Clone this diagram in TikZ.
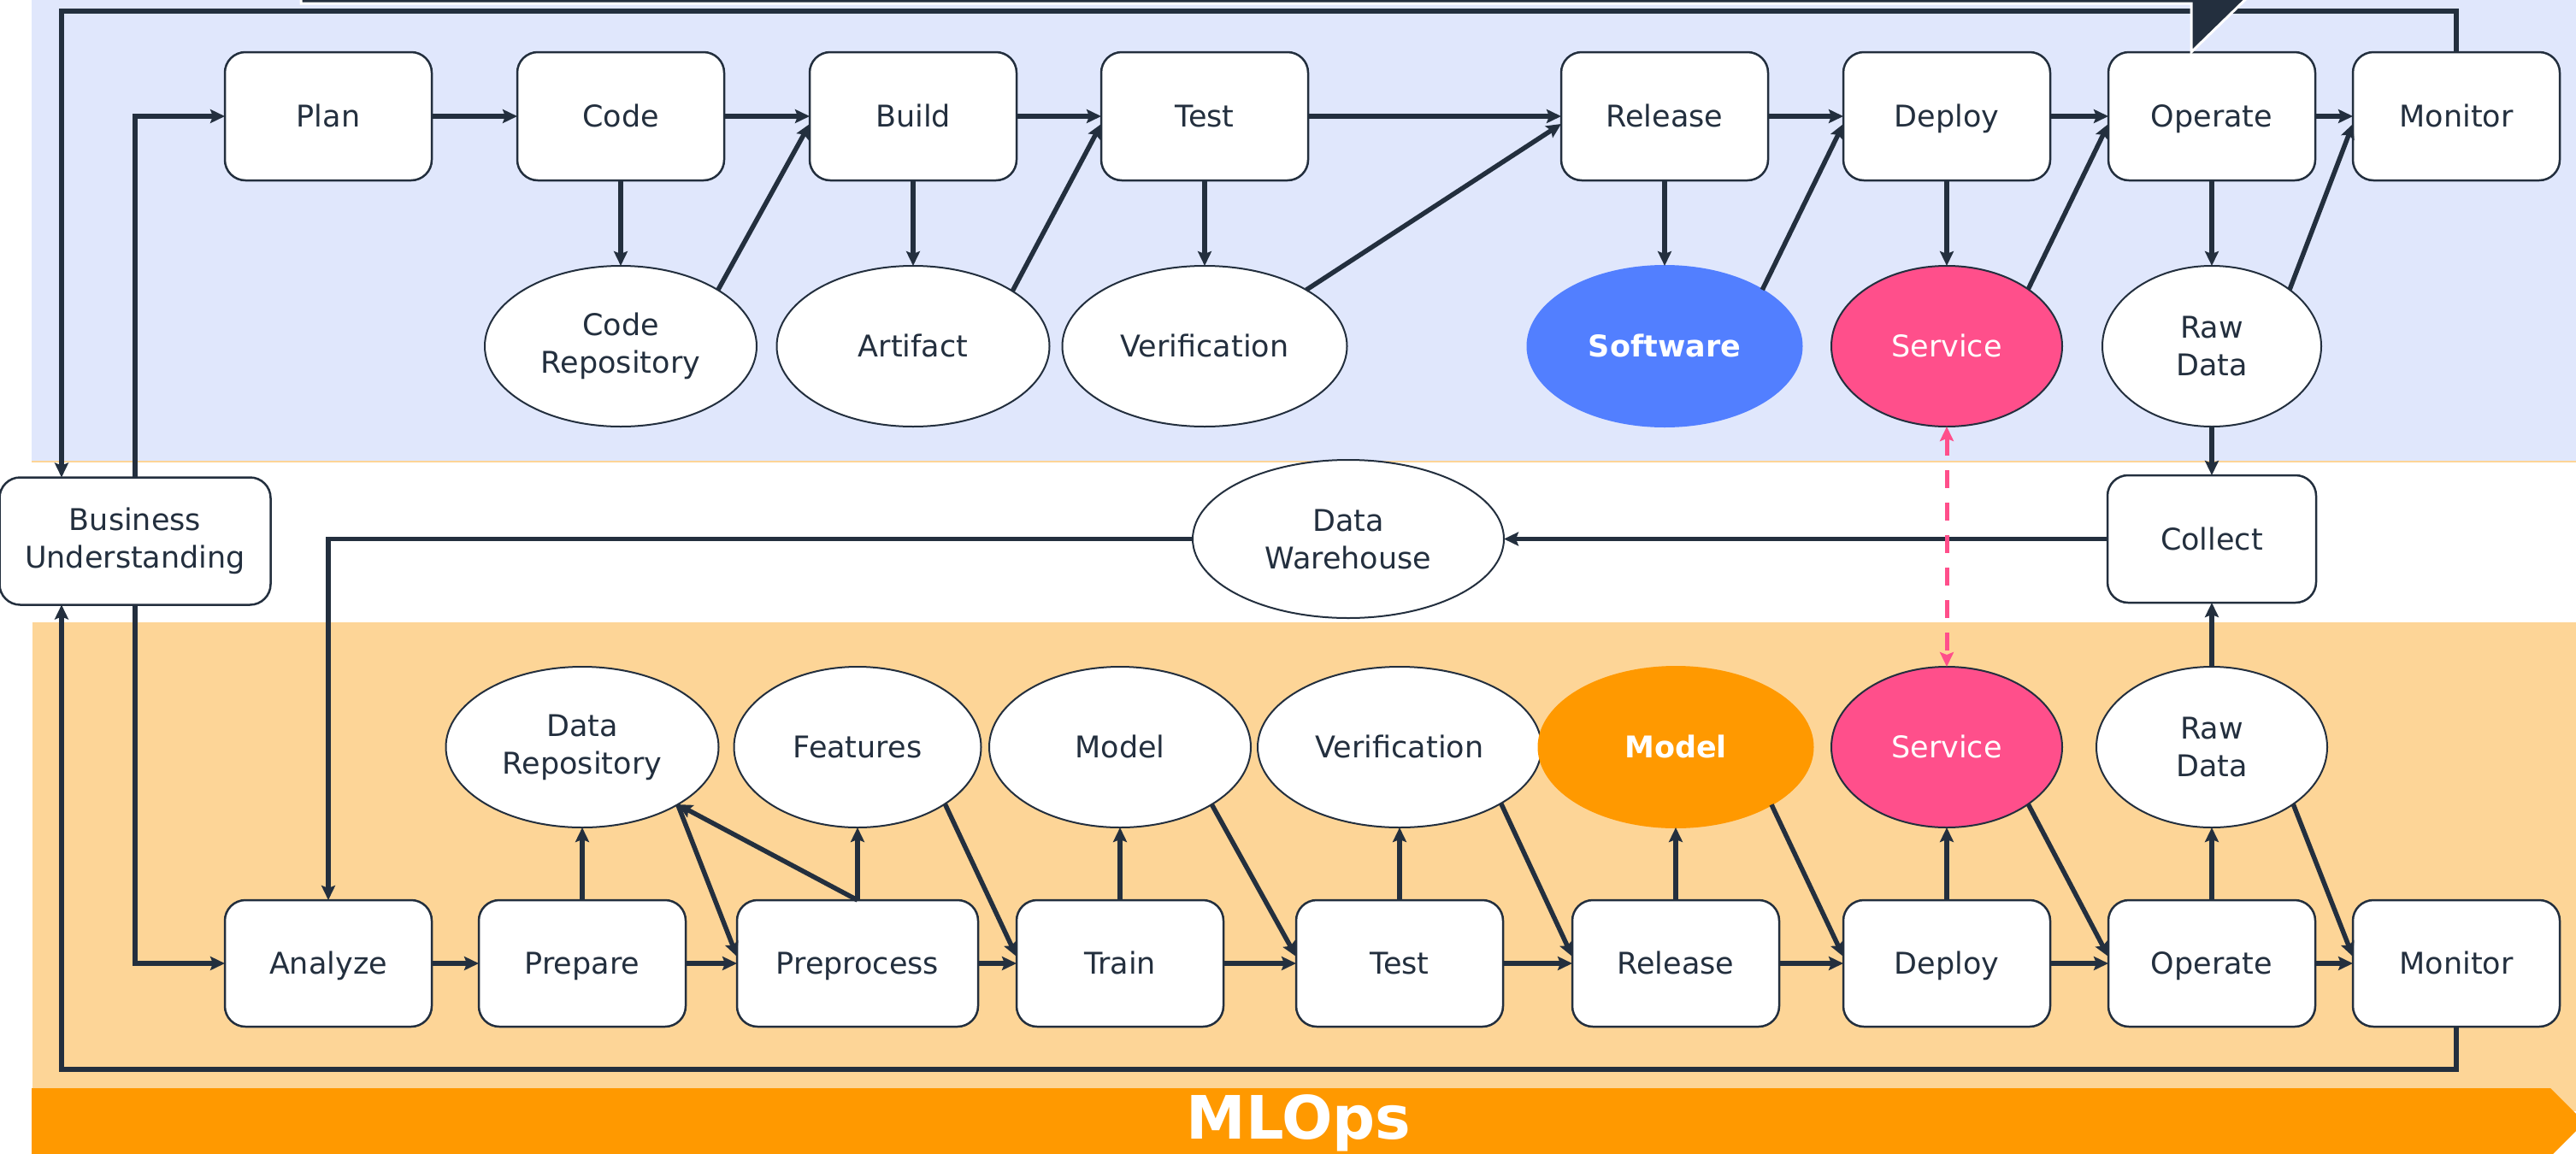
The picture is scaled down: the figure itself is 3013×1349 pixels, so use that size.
\documentclass[tikz,border=0pt]{standalone}
\usepackage{fontspec}
\setmainfont{DejaVu Sans}
\usetikzlibrary{positioning,shapes.geometric,arrows.meta}

\definecolor{ink}{HTML}{232F3E}
\definecolor{devbg}{HTML}{E0E7FC}
\definecolor{mlbg}{HTML}{FDD597}
\definecolor{awsorange}{HTML}{FF9900}
\definecolor{svcpink}{HTML}{FF4F8B}
\definecolor{swblue}{HTML}{527FFF}

\newcommand{\labelstrut}{\rule[-9pt]{0pt}{43.5pt}}

\tikzset{
    stage/.style={draw=ink, line width=2.5pt, fill=white, rounded corners=24pt, minimum width=242pt, minimum height=150pt,
        align=center, text=ink, inner sep=0pt, outer sep=0pt, font=\fontsize{35}{44}\selectfont},
    store/.style={ellipse, draw=ink, line width=2pt, fill=white, minimum height=188pt,
        align=center, text=ink, inner sep=0pt, outer sep=0pt, font=\fontsize{35}{44}\selectfont},
    highlight/.style={text=white, font=\fontsize{35}{44}\selectfont\bfseries},
    flowtip/.tip={Stealth[length=17pt, width=16pt, inset=3pt]},
    flow/.style={draw=ink, line width=5.5pt, -flowtip},
}

\begin{document}
\begin{tikzpicture}[x=1pt, y=-1pt]
                \useasboundingbox (0,0) rectangle (3013,1349);
                \clip (0,0) rectangle (3013,1349);

                \fill [devbg] (37,-10) rectangle (3020,540);
                \fill [mlbg] (38,728) rectangle (3020,1300);
                \draw [mlbg, line width=2pt] (37,540) -- (3020,540);

                \def\dx{100pt}
                \def\dy{100pt}
                \node [stage] (plan) at (384,136) {Plan\labelstrut};
                \node [stage, right=\dx of plan] (code) {Code\labelstrut};
                \node [stage, right=\dx of code] (build) {Build\labelstrut};
                \node [stage, right=99pt of build] (test) {Test\labelstrut};
                \node [stage, right=296pt of test] (release) {Release\labelstrut};
                \node [stage, right=88pt of release] (deploy) {Deploy\labelstrut};
                \node [stage, right=68pt of deploy] (operate) {Operate\labelstrut};
                \node [stage, right=44pt of operate] (monitor) {Monitor\labelstrut};

                \node [store, below=\dy of code, minimum width=318pt] (coderepo) {Code\\Repository};
                \node [store, below=\dy of build, minimum width=319pt] (artifact) {Artifact\labelstrut};
                \node [store, below=\dy of test, minimum width=333pt] (verification) {Verification\labelstrut};
                \node [store, below=\dy of release, minimum width=321pt, fill=swblue, draw=swblue, highlight] (software) {Software\labelstrut};
                \node [store, below=\dy of deploy, minimum width=270pt, fill=svcpink, text=white] (service) {Service\labelstrut};
                \node [store, below=\dy of operate, minimum width=256pt] (rawdata) {Raw\\Data};

                \node [stage, minimum width=317pt, minimum height=149pt] (business) at (158,633) {Business\\Understanding};
                \node [stage, below=57pt of rawdata, minimum width=244pt, minimum height=149pt] (collect) {Collect\labelstrut};
                \node [store, left=706pt of collect, minimum width=364pt, minimum height=185pt] (warehouse) {Data\\Warehouse};

                \node [stage, minimum height=148pt] (analyze) at (384,1127) {Analyze\labelstrut};
                \node [stage, minimum height=148pt, right=55pt of analyze] (prepare) {Prepare\labelstrut};
                \node [stage, minimum height=148pt, minimum width=282pt, right=60pt of prepare] (preprocess) {Preprocess\labelstrut};
                \node [stage, minimum height=148pt, right=45pt of preprocess] (train) {Train\labelstrut};
                \node [stage, minimum height=148pt, right=85pt of train] (mltest) {Test\labelstrut};
                \node [stage, minimum height=148pt, right=81pt of mltest] (mlrelease) {Release\labelstrut};
                \node [stage, minimum height=148pt, right=75pt of mlrelease] (mldeploy) {Deploy\labelstrut};
                \node [stage, minimum height=148pt, right=68pt of mldeploy] (mloperate) {Operate\labelstrut};
                \node [stage, minimum height=148pt, right=44pt of mloperate] (mlmonitor) {Monitor\labelstrut};

                \node [store, above=85pt of prepare, minimum width=319pt] (datarepo) {Data\\Repository};
                \node [store, above=85pt of preprocess, minimum width=289pt] (features) {Features\labelstrut};
                \node [store, above=85pt of train, minimum width=306pt] (model) {Model\labelstrut};
                \node [store, above=85pt of mltest, minimum width=332pt] (mlverification) {Verification\labelstrut};
                \node [store, above=85pt of mlrelease, minimum width=321pt, fill=awsorange, draw=awsorange, highlight] (mlmodel) {Model\labelstrut};
                \node [store, above=85pt of mldeploy, minimum width=270pt, fill=svcpink, text=white] (mlservice) {Service\labelstrut};
                \node [store, above=85pt of mloperate, minimum width=270pt] (mlrawdata) {Raw\\Data};

                \draw [flow] (plan) to (code);
                \draw [flow] (code) to (build);
                \draw [flow] (build) to (test);
                \draw [flow] (test) to (release);
                \draw [flow] (release) to (deploy);
                \draw [flow] (deploy) to (operate);
                \draw [flow] (operate) to (monitor);

                \draw [flow] (code.south) to (coderepo.north);
                \draw [flow] (build.south) to (artifact.north);
                \draw [flow] (test.south) to (verification.north);
                \draw [flow] (release.south) to (software.north);
                \draw [flow] (deploy.south) to (service.north);
                \draw [flow] (operate.south) to (rawdata.north);

                \draw [flow] (coderepo.30) to ([yshift=-9pt]build.west);
                \draw [flow] (artifact.29) to ([yshift=-9pt]test.west);
                \draw [flow] (verification.29) to ([yshift=-9pt]release.west);
                \draw [flow] (software.30) to ([yshift=-9pt]deploy.west);
                \draw [flow] (service.35) to ([yshift=-9pt]operate.west);
                \draw [flow] (rawdata.36) to ([yshift=-9pt]monitor.west);

                \draw [flow] (analyze) to (prepare);
                \draw [flow] (prepare) to (preprocess);
                \draw [flow] (preprocess) to (train);
                \draw [flow] (train) to (mltest);
                \draw [flow] (mltest) to (mlrelease);
                \draw [flow] (mlrelease) to (mldeploy);
                \draw [flow] (mldeploy) to (mloperate);
                \draw [flow] (mloperate) to (mlmonitor);

                \draw [flow] (prepare.north) to (datarepo.south);
                \draw [flow] (preprocess.north) to (features.south);
                \draw [flow] (train.north) to (model.south);
                \draw [flow] (mltest.north) to (mlverification.south);
                \draw [flow] (mlrelease.north) to (mlmodel.south);
                \draw [flow] (mldeploy.north) to (mlservice.south);
                \draw [flow] (mloperate.north) to (mlrawdata.south);

                \draw [flow] (preprocess.north) to (datarepo.-31);
                \draw [flow] (datarepo.-31) to ([yshift=8pt]preprocess.west);
                \draw [flow] (features.-33) to ([yshift=8pt]train.west);
                \draw [flow] (model.-32) to ([yshift=8pt]mltest.west);
                \draw [flow] (mlverification.-29) to ([yshift=8pt]mlrelease.west);
                \draw [flow] (mlmodel.-31) to ([yshift=8pt]mldeploy.west);
                \draw [flow] (mlservice.-35) to ([yshift=8pt]mloperate.west);
                \draw [flow] (mlrawdata.-35) to ([yshift=8pt]mlmonitor.west);

                \coordinate (looptop) at (72,13);
                \coordinate (loopbottom) at (72,1251);
                \draw [flow] (monitor.north) |- (looptop) -- (looptop |- business.north);
                \draw [flow] (mlmonitor.south) |- (loopbottom) -- (loopbottom |- business.south);
                \draw [flow] (business.north) |- (plan.west);
                \draw [flow] (business.south) |- (analyze.west);

                \draw [flow] (rawdata) to (collect);
                \draw [flow] (mlrawdata) to (collect);
                \draw [flow] (collect) to (warehouse);
                \draw [flow] (warehouse.west) -| (analyze.north);
                \draw [svcpink, line width=5pt, dash pattern=on 21pt off 17pt, flowtip-flowtip] (service) to (mlservice);

                \filldraw [fill=ink, draw=white, line width=3pt] (352,-10) -- (2636,-10) -- (2563,61) -- (2563,4) -- (352,4) -- cycle;

                \fill [awsorange] (37,1273) -- (2983,1273) -- (3023,1313) -- (2977,1359) -- (37,1359) -- cycle;
                \node [text=white, font=\fontsize{70}{70}\selectfont\bfseries, anchor=base] (mlops) at (1519,1332) {MLOps};

            \end{tikzpicture}
\end{document}
